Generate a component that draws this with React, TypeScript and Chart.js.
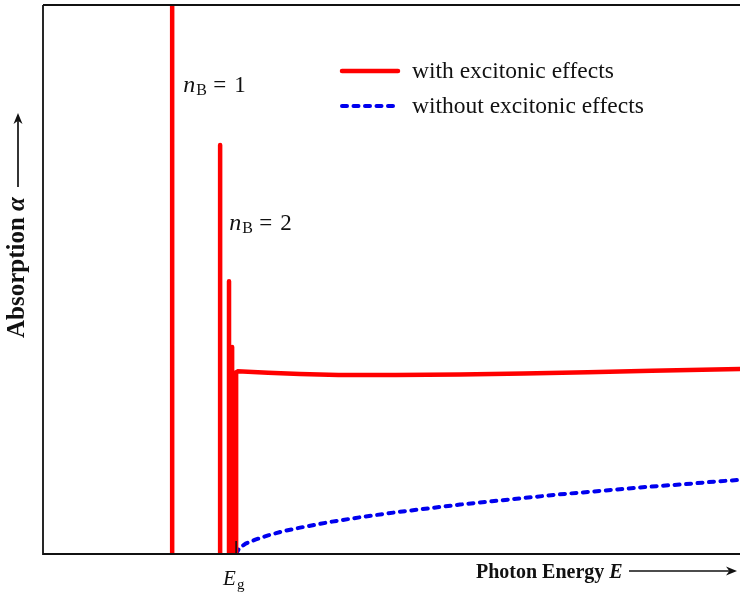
import React, { useEffect, useRef } from "react";
import { Chart, registerables } from "chart.js";

Chart.register(...registerables);

// Photon energy measured from the band gap Eg, in units of the exciton Rydberg
const peakEnergy = [-1, -0.25, -0.111, -0.0625, -0.04, -0.028, -0.0204, -0.0156, -0.0123, -0.01];
const peakHeight = [1.2, 0.745, 0.497, 0.377, 0.325, 0.322, 0.32, 0.32, 0.32, 0.32];
const contEnergy = [0, 0, 0.03, 0.5, 1, 1.6, 2.5, 3.5, 4.5, 5.5, 6.5, 7.88];
const contAbs = [0, 0.331, 0.333, 0.33, 0.328, 0.326, 0.326, 0.327, 0.329, 0.331, 0.334, 0.337];
const freeEnergy = [0, 0.05, 0.15, 0.3, 0.5, 0.75, 1, 1.5, 2, 2.5, 3, 3.5, 4, 4.5, 5, 5.5, 6, 6.5, 7, 7.5, 7.88];
const freeAbs = [0, 0.011, 0.019, 0.026, 0.034, 0.042, 0.048, 0.059, 0.068, 0.076, 0.083, 0.09, 0.096, 0.102, 0.108, 0.113, 0.118, 0.123, 0.127, 0.132, 0.135];
const seriesLabels = ["with excitonic effects", "without excitonic effects"];
const peakLabels = ["1", "2"];
const tickValues = [0];
const tickLabels = [["E", "g"]];
const xTitle = ["Photon Energy ", "E"];
const yTitle = ["Absorption ", "\u03b1"];

const SERIF = "'Liberation Serif', 'Times New Roman', serif";

function drawArrow(ctx: CanvasRenderingContext2D, x1: number, y1: number, x2: number, y2: number) {
  const ang = Math.atan2(y2 - y1, x2 - x1);
  const hl = 11;
  const hw = 4.5;
  const c = Math.cos(ang);
  const s = Math.sin(ang);
  ctx.beginPath();
  ctx.moveTo(x1, y1);
  ctx.lineTo(x2 - c * hl * 0.7, y2 - s * hl * 0.7);
  ctx.lineWidth = 1.7;
  ctx.stroke();
  ctx.beginPath();
  ctx.moveTo(x2, y2);
  ctx.lineTo(x2 - c * hl - s * hw, y2 - s * hl + c * hw);
  ctx.lineTo(x2 - c * hl * 0.7, y2 - s * hl * 0.7);
  ctx.lineTo(x2 - c * hl + s * hw, y2 - s * hl - c * hw);
  ctx.closePath();
  ctx.fill();
}

const overlay = {
  id: "overlay",
  afterDatasetsDraw(chart: any) {
    const { ctx, chartArea } = chart;
    const { left, top, right, bottom } = chartArea;
    const xs = chart.scales.x;
    ctx.save();
    ctx.strokeStyle = "#111";
    ctx.fillStyle = "#111";
    ctx.lineWidth = 1.8;
    ctx.beginPath();
    ctx.moveTo(left, top);
    ctx.lineTo(right, top);
    ctx.moveTo(left, top);
    ctx.lineTo(left, bottom);
    ctx.lineTo(right, bottom);
    ctx.stroke();

    // ticks + labels
    tickValues.forEach((v, i) => {
      const px = xs.getPixelForValue(v);
      ctx.lineWidth = 1.6;
      ctx.beginPath();
      ctx.moveTo(px, bottom);
      ctx.lineTo(px, bottom - 13);
      ctx.stroke();
      ctx.textBaseline = "alphabetic";
      ctx.textAlign = "left";
      ctx.font = `italic 21px ${SERIF}`;
      const [main, sub] = tickLabels[i];
      const w = ctx.measureText(main).width;
      ctx.fillText(main, px - 13, 585);
      ctx.font = `15px ${SERIF}`;
      ctx.fillText(sub, px - 13 + w + 1, 589);
    });

    // peak annotations
    const drawNB = (xp: number, yp: number, val: string) => {
      ctx.textAlign = "left";
      ctx.font = `italic 24px ${SERIF}`;
      ctx.fillText("n", xp, yp);
      ctx.font = `16px ${SERIF}`;
      ctx.fillText("B", xp + 13, yp + 3);
      ctx.font = `23px ${SERIF}`;
      ctx.fillText("=", xp + 30, yp);
      ctx.fillText(val, xp + 51, yp);
    };
    drawNB(xs.getPixelForValue(peakEnergy[0]) + 11, 92, peakLabels[0]);
    drawNB(xs.getPixelForValue(peakEnergy[1]) + 9, 230, peakLabels[1]);

    // legend
    const ds = chart.data.datasets;
    const legendY = [71, 106];
    [0, 1].forEach((k) => {
      const d = ds[k];
      ctx.save();
      ctx.strokeStyle = d.borderColor;
      ctx.lineWidth = d.borderWidth;
      ctx.lineCap = "round";
      ctx.setLineDash(d.borderDash || []);
      ctx.beginPath();
      ctx.moveTo(342, legendY[k]);
      ctx.lineTo(398, legendY[k]);
      ctx.stroke();
      ctx.restore();
      ctx.font = `23.5px ${SERIF}`;
      ctx.textAlign = "left";
      ctx.fillStyle = "#111";
      ctx.fillText(seriesLabels[k], 412, legendY[k] + 7);
    });

    // x title
    ctx.font = `bold 20px ${SERIF}`;
    ctx.textAlign = "left";
    ctx.fillText(xTitle[0], 476, 578);
    const tx = 476 + ctx.measureText(xTitle[0]).width;
    ctx.font = `bold italic 20px ${SERIF}`;
    ctx.fillText(xTitle[1], tx, 578);
    drawArrow(ctx, 629, 571, 737, 571);

    // y title
    ctx.save();
    ctx.translate(24, 338);
    ctx.rotate(-Math.PI / 2);
    ctx.font = `bold 25px ${SERIF}`;
    ctx.fillText(yTitle[0], 0, 0);
    const ty = ctx.measureText(yTitle[0]).width;
    ctx.font = `bold italic 25px ${SERIF}`;
    ctx.fillText(yTitle[1], ty, 0);
    ctx.restore();
    drawArrow(ctx, 18, 187, 18, 113);

    ctx.restore();
  },
};

export default function App() {
  const ref = useRef<HTMLCanvasElement>(null);
  useEffect(() => {
    document.body.style.margin = "0";
    const redData: any[] = [];
    peakEnergy.forEach((e, i) => {
      redData.push({ x: e, y: 0 });
      redData.push({ x: e, y: peakHeight[i] });
      redData.push({ x: e, y: null });
    });
    contEnergy.forEach((e, i) => redData.push({ x: e, y: contAbs[i] }));
    const blueData = freeEnergy.map((e, i) => ({ x: e, y: freeAbs[i] }));
    const chart = new Chart(ref.current!, {
      type: "line",
      data: {
        datasets: [
          {
            label: seriesLabels[0],
            data: redData,
            borderColor: "#ff0000",
            borderWidth: 4.5,
            borderCapStyle: "round",
            borderJoinStyle: "miter",
            pointRadius: 0,
            spanGaps: false,
            tension: 0,
          },
          {
            label: seriesLabels[1],
            data: blueData,
            borderColor: "#0000ee",
            borderWidth: 4,
            borderDash: [5, 6.5],
            borderCapStyle: "round",
            pointRadius: 0,
            tension: 0,
          },
        ],
      } as any,
      options: {
        animation: false,
        responsive: false,
        maintainAspectRatio: false,
        layout: { padding: { left: 43, top: 5, right: 0, bottom: 39 } },
        scales: {
          x: { type: "linear", min: -3.02, max: 7.88, display: false },
          y: { type: "linear", min: 0, max: 1, display: false },
        },
        plugins: { legend: { display: false }, tooltip: { enabled: false } },
      } as any,
      plugins: [overlay],
    });
    return () => chart.destroy();
  }, []);
  return <canvas ref={ref} width={740} height={593} style={{ display: "block" }} />;
}
